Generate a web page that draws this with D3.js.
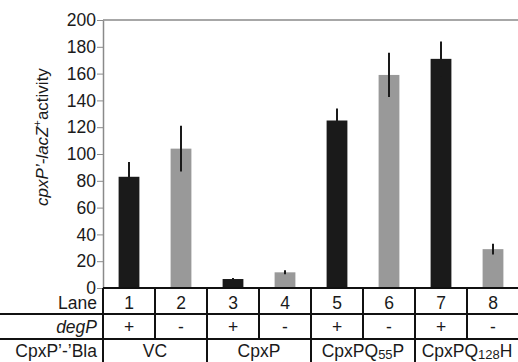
<!doctype html>
<html>
<head>
<script src="https://d3js.org/d3.v7.min.js"></script>
<style>
  body { margin: 0; background: #fff; }
  svg { font-family: "Liberation Sans", Arial, sans-serif; }
  .tick text { font-size: 17.5px; fill: #1a1a1a; }
  .tick line, .domain { stroke: #8a8a8a; }
  .cell { font-size: 17.5px; fill: #1a1a1a; }
  .grid { stroke: #111; stroke-width: 2; }
</style>
</head>
<body>
<svg id="chart" width="518" height="362"></svg>
<script>
var lanes = ["1", "2", "3", "4", "5", "6", "7", "8"];
var activity = [83, 104, 6.7, 11.7, 125, 159, 171, 29];
var errors = [11, 17, 0.8, 1.5, 9, 16.5, 13, 4];
var degP = ["+", "-", "+", "-", "+", "-", "+", "-"];
var constructs = [["VC"], ["CpxP"], ["CpxPQ", "55", "P"], ["CpxPQ", "128", "H"]];
var yTicks = [0, 20, 40, 60, 80, 100, 120, 140, 160, 180, 200];

var svg = d3.select("#chart");
var plotLeft = 103, plotRight = 519, plotTop = 20, base = 288;
var row1 = 314, row2 = 339, row3 = 364;

var x = d3.scaleBand().domain(lanes).range([plotLeft, plotRight]).paddingInner(0.6).paddingOuter(0.3);
var xCol = d3.scaleBand().domain(lanes).range([plotLeft, plotRight]);
var y = d3.scaleLinear().domain([0, 200]).range([base, plotTop]);

// y axis
svg.append("g")
  .attr("transform", "translate(" + plotLeft + ",0)")
  .call(d3.axisLeft(y).tickValues(yTicks).tickSize(6).tickPadding(1).tickSizeOuter(0))
  .call(function(g) { g.select(".domain").attr("stroke-width", 1.5); });

// top frame line
svg.append("line")
  .attr("x1", plotLeft).attr("x2", 518).attr("y1", y(200)).attr("y2", y(200))
  .attr("stroke", "#8a8a8a").attr("stroke-width", 1.5);

// bars
svg.selectAll(".bar")
  .data(lanes)
  .enter().append("rect")
  .attr("x", function(d) { return x(d); })
  .attr("width", x.bandwidth())
  .attr("y", function(d, i) { return y(activity[i]); })
  .attr("height", function(d, i) { return base - y(activity[i]); })
  .attr("fill", function(d, i) { return i % 2 == 0 ? "#1a1a1a" : "#999999"; });

// error bars
svg.selectAll(".err")
  .data(lanes)
  .enter().append("line")
  .attr("x1", function(d) { return x(d) + x.bandwidth() / 2; })
  .attr("x2", function(d) { return x(d) + x.bandwidth() / 2; })
  .attr("y1", function(d, i) { return y(activity[i] + errors[i]); })
  .attr("y2", function(d, i) { return y(activity[i] - errors[i]); })
  .attr("stroke", "#1a1a1a").attr("stroke-width", 2);

// y label
var yl = svg.append("text")
  .attr("transform", "translate(48,137) rotate(-90)")
  .attr("text-anchor", "middle")
  .attr("font-size", 17)
  .attr("fill", "#1a1a1a");
yl.append("tspan").attr("font-style", "italic").text("cpxP’-lacZ");
yl.append("tspan").attr("font-size", 11).attr("dy", -7).text("+");
yl.append("tspan").attr("dy", 7).text("activity");

// table lines
var g = svg.append("g").attr("class", "grid");
g.append("line").attr("x1", plotLeft).attr("x2", 518).attr("y1", base).attr("y2", base);
g.append("line").attr("x1", 0).attr("x2", 518).attr("y1", row1).attr("y2", row1);
g.append("line").attr("x1", 0).attr("x2", 518).attr("y1", row2).attr("y2", row2);
lanes.forEach(function(d, i) {
  g.append("line")
    .attr("x1", xCol(d)).attr("x2", xCol(d))
    .attr("y1", base).attr("y2", i % 2 == 0 ? row3 : row2);
});

// row labels
svg.append("text").attr("class", "cell").attr("x", 97).attr("y", 309).attr("text-anchor", "end").text("Lane");
svg.append("text").attr("class", "cell").attr("x", 97).attr("y", 333).attr("text-anchor", "end")
  .attr("font-style", "italic").text("degP");
svg.append("text").attr("class", "cell").attr("x", 97).attr("y", 357).attr("text-anchor", "end").text("CpxP’-’Bla");

// lane numbers and degP signs
svg.selectAll(".lane")
  .data(lanes)
  .enter().append("text")
  .attr("class", "cell")
  .attr("x", function(d) { return xCol(d) + xCol.bandwidth() / 2; })
  .attr("y", 309)
  .attr("text-anchor", "middle")
  .text(function(d) { return d; });

svg.selectAll(".sign")
  .data(lanes)
  .enter().append("text")
  .attr("class", "cell")
  .attr("x", function(d) { return xCol(d) + xCol.bandwidth() / 2; })
  .attr("y", 333)
  .attr("text-anchor", "middle")
  .text(function(d, i) { return degP[i]; });

// construct labels
constructs.forEach(function(c, i) {
  var t = svg.append("text").attr("class", "cell")
    .attr("x", xCol(lanes[i * 2]) + xCol.bandwidth())
    .attr("y", 357)
    .attr("text-anchor", "middle");
  t.append("tspan").text(c[0]);
  if (c.length > 1) {
    t.append("tspan").attr("font-size", 13).attr("dy", 2).text(c[1]);
    t.append("tspan").attr("dy", -2).text(c[2]);
  }
});
</script>
</body>
</html>
